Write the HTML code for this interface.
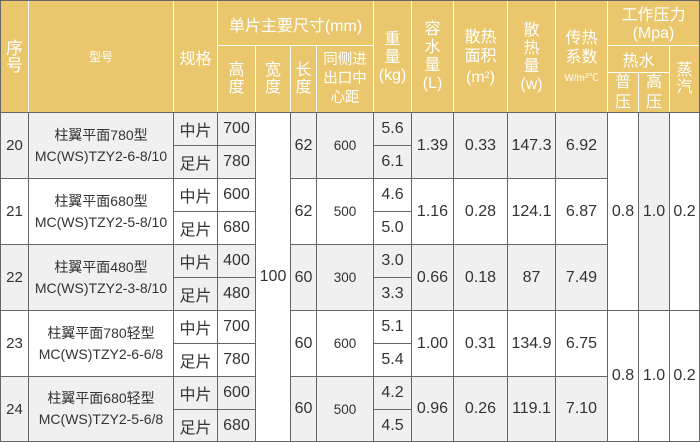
<!DOCTYPE html>
<html><head><meta charset="utf-8">
<style>
*{margin:0;padding:0;box-sizing:border-box}
html,body{width:700px;height:443px;background:#fff;overflow:hidden}
body{position:relative;font-family:"Liberation Sans","Noto Sans CJK SC",sans-serif;color:#333}
.c{position:absolute;display:flex;align-items:center;justify-content:center;text-align:center;white-space:nowrap}
.h{color:#fff;font-size:16px}
.l{position:absolute}
.w{background:#fff}
.d{background:#666}
.g{position:absolute;background:#f0f0f0}
.k0{left:1px;width:27px}.k1{left:29px;width:144px}.k2{left:174px;width:43px}.k3{left:218px;width:37px}
.k4{left:256px;width:34px}.k5{left:291px;width:25px}.k6{left:317px;width:56px}.k7{left:374px;width:37px}
.k8{left:412px;width:41px}.k9{left:454px;width:53px}.k10{left:508px;width:47px}.k11{left:556px;width:51px}
.k12{left:608px;width:30px}.k13{left:639px;width:30px}.k14{left:670px;width:29px}
.r0{top:113px;height:65px}.r1{top:179px;height:65px}.r2{top:245px;height:65px}.r3{top:311px;height:65px}.r4{top:377px;height:64px}
.a0{top:113px;height:32px}.b0{top:146px;height:32px}
.a1{top:179px;height:32px}.b1{top:212px;height:32px}
.a2{top:245px;height:32px}.b2{top:278px;height:32px}
.a3{top:311px;height:32px}.b3{top:344px;height:32px}
.a4{top:377px;height:32px}.b4{top:410px;height:31px}
.n{font-size:16px}
.sn{font-size:15px}
.m{font-size:14px;line-height:21px;flex-direction:column}
.s{font-size:16px}
.dist{font-size:13.5px}
</style></head><body>

<!-- header background -->
<div class="l" style="left:0;top:0;width:700px;height:112px;background:#eac76c"></div>

<!-- row shading -->
<div class="g" style="left:0;top:112px;width:255px;height:66px"></div>
<div class="g" style="left:290px;top:112px;width:317px;height:66px"></div>
<div class="g" style="left:0;top:244px;width:255px;height:66px"></div>
<div class="g" style="left:290px;top:244px;width:317px;height:66px"></div>
<div class="g" style="left:0;top:376px;width:255px;height:66px"></div>
<div class="g" style="left:290px;top:376px;width:317px;height:66px"></div>
<div class="g" style="left:638px;top:112px;width:31px;height:198px"></div>

<!-- header white lines -->
<div class="l w" style="left:28px;top:0;width:1px;height:112px"></div>
<div class="l w" style="left:173px;top:0;width:1px;height:112px"></div>
<div class="l w" style="left:217px;top:0;width:1px;height:112px"></div>
<div class="l w" style="left:373px;top:0;width:1px;height:112px"></div>
<div class="l w" style="left:411px;top:0;width:1px;height:112px"></div>
<div class="l w" style="left:453px;top:0;width:1px;height:112px"></div>
<div class="l w" style="left:507px;top:0;width:1px;height:112px"></div>
<div class="l w" style="left:555px;top:0;width:1px;height:112px"></div>
<div class="l w" style="left:607px;top:0;width:1px;height:112px"></div>
<div class="l w" style="left:255px;top:45px;width:1px;height:67px"></div>
<div class="l w" style="left:290px;top:45px;width:1px;height:67px"></div>
<div class="l w" style="left:316px;top:45px;width:1px;height:67px"></div>
<div class="l w" style="left:669px;top:45px;width:1px;height:67px"></div>
<div class="l w" style="left:638px;top:72px;width:1px;height:40px"></div>
<div class="l w" style="left:217px;top:45px;width:156px;height:1px"></div>
<div class="l w" style="left:607px;top:45px;width:93px;height:1px"></div>
<div class="l w" style="left:607px;top:72px;width:62px;height:1px"></div>

<!-- header text -->
<div class="c h" style="left:1px;top:1px;width:27px;height:111px;font-size:17px;line-height:17px"><div>序<br>号</div></div>
<div class="c h" style="left:29px;top:1px;width:144px;height:111px;font-size:12px">型号</div>
<div class="c h" style="left:174px;top:1px;width:43px;height:111px">规格</div>
<div class="c h" style="left:218px;top:1px;width:155px;height:44px;padding-top:2px">单片主要尺寸(mm)</div>
<div class="c h" style="left:218px;top:46px;width:37px;height:66px;line-height:17px"><div>高<br>度</div></div>
<div class="c h" style="left:256px;top:46px;width:34px;height:66px;line-height:17px"><div>宽<br>度</div></div>
<div class="c h" style="left:291px;top:46px;width:25px;height:66px;line-height:17px"><div>长<br>度</div></div>
<div class="c h" style="left:317px;top:46px;width:56px;height:66px;font-size:14.5px;line-height:19px"><div>同侧进<br>出口中<br>心距</div></div>
<div class="c h" style="left:374px;top:1px;width:37px;height:111px;line-height:18px;padding-top:2px"><div>重<br>量<br>(kg)</div></div>
<div class="c h" style="left:412px;top:1px;width:41px;height:111px;line-height:18px"><div>容<br>水<br>量<br>(L)</div></div>
<div class="c h" style="left:454px;top:1px;width:53px;height:111px;line-height:19px;padding-top:2px"><div>散热<br>面积<br>(m<span style="font-size:9px;vertical-align:4px">2</span>)</div></div>
<div class="c h" style="left:508px;top:1px;width:47px;height:111px;line-height:18px;padding-top:2px"><div>散<br>热<br>量<br>(w)</div></div>
<div class="c h" style="left:556px;top:1px;width:51px;height:111px;line-height:19px;padding-top:2px"><div>传热<br>系数<br><span style="font-size:10px;line-height:14px">W/m<span style="font-size:7px;vertical-align:3px">2</span>℃</span></div></div>
<div class="c h" style="left:608px;top:1px;width:91px;height:44px;line-height:18px;padding-top:3px"><div>工作压力<br>(Mpa)</div></div>
<div class="c h" style="left:608px;top:46px;width:61px;height:26px">热水</div>
<div class="c h" style="left:608px;top:73px;width:30px;height:39px;line-height:20px"><div>普<br>压</div></div>
<div class="c h" style="left:639px;top:73px;width:30px;height:39px;line-height:20px"><div>高<br>压</div></div>
<div class="c h" style="left:670px;top:46px;width:29px;height:66px;line-height:17px"><div>蒸<br>汽</div></div>

<!-- body dark lines: horizontal -->
<div class="l d" style="left:0;top:0;width:700px;height:1px"></div>
<div class="l d" style="left:0;top:112px;width:700px;height:1px"></div>
<div class="l d" style="left:0;top:441px;width:700px;height:1px"></div>
<div class="l d" style="left:0;top:178px;width:255px;height:1px"></div>
<div class="l d" style="left:290px;top:178px;width:317px;height:1px"></div>
<div class="l d" style="left:0;top:244px;width:255px;height:1px"></div>
<div class="l d" style="left:290px;top:244px;width:317px;height:1px"></div>
<div class="l d" style="left:0;top:310px;width:255px;height:1px"></div>
<div class="l d" style="left:290px;top:310px;width:410px;height:1px"></div>
<div class="l d" style="left:0;top:376px;width:255px;height:1px"></div>
<div class="l d" style="left:290px;top:376px;width:317px;height:1px"></div>
<!-- sub lines -->
<div class="l d" style="left:173px;top:145px;width:82px;height:1px"></div>
<div class="l d" style="left:373px;top:145px;width:38px;height:1px"></div>
<div class="l d" style="left:173px;top:211px;width:82px;height:1px"></div>
<div class="l d" style="left:373px;top:211px;width:38px;height:1px"></div>
<div class="l d" style="left:173px;top:277px;width:82px;height:1px"></div>
<div class="l d" style="left:373px;top:277px;width:38px;height:1px"></div>
<div class="l d" style="left:173px;top:343px;width:82px;height:1px"></div>
<div class="l d" style="left:373px;top:343px;width:38px;height:1px"></div>
<div class="l d" style="left:173px;top:409px;width:82px;height:1px"></div>
<div class="l d" style="left:373px;top:409px;width:38px;height:1px"></div>
<!-- vertical body lines -->
<div class="l d" style="left:0;top:0;width:1px;height:442px"></div>
<div class="l d" style="left:699px;top:0;width:1px;height:442px"></div>
<div class="l d" style="left:28px;top:112px;width:1px;height:330px"></div>
<div class="l d" style="left:173px;top:112px;width:1px;height:330px"></div>
<div class="l d" style="left:217px;top:112px;width:1px;height:330px"></div>
<div class="l d" style="left:255px;top:112px;width:1px;height:330px"></div>
<div class="l d" style="left:290px;top:112px;width:1px;height:330px"></div>
<div class="l d" style="left:316px;top:112px;width:1px;height:330px"></div>
<div class="l d" style="left:373px;top:112px;width:1px;height:330px"></div>
<div class="l d" style="left:411px;top:112px;width:1px;height:330px"></div>
<div class="l d" style="left:453px;top:112px;width:1px;height:330px"></div>
<div class="l d" style="left:507px;top:112px;width:1px;height:330px"></div>
<div class="l d" style="left:555px;top:112px;width:1px;height:330px"></div>
<div class="l d" style="left:607px;top:112px;width:1px;height:330px"></div>
<div class="l d" style="left:638px;top:112px;width:1px;height:330px"></div>
<div class="l d" style="left:669px;top:112px;width:1px;height:330px"></div>

<!-- row 20 -->
<div class="c sn k0 r0">20</div>
<div class="c m k1 r0"><span>柱翼平面780型</span><span>MC(WS)TZY2-6-8/10</span></div>
<div class="c s k2 a0">中片</div><div class="c s k2 b0">足片</div>
<div class="c n k3 a0">700</div><div class="c n k3 b0">780</div>
<div class="c n k5 r0">62</div>
<div class="c dist k6 r0">600</div>
<div class="c n k7 a0">5.6</div><div class="c n k7 b0">6.1</div>
<div class="c n k8 r0">1.39</div>
<div class="c n k9 r0">0.33</div>
<div class="c n k10 r0">147.3</div>
<div class="c n k11 r0">6.92</div>

<!-- row 21 -->
<div class="c sn k0 r1">21</div>
<div class="c m k1 r1"><span>柱翼平面680型</span><span>MC(WS)TZY2-5-8/10</span></div>
<div class="c s k2 a1">中片</div><div class="c s k2 b1">足片</div>
<div class="c n k3 a1">600</div><div class="c n k3 b1">680</div>
<div class="c n k5 r1">62</div>
<div class="c dist k6 r1">500</div>
<div class="c n k7 a1">4.6</div><div class="c n k7 b1">5.0</div>
<div class="c n k8 r1">1.16</div>
<div class="c n k9 r1">0.28</div>
<div class="c n k10 r1">124.1</div>
<div class="c n k11 r1">6.87</div>

<!-- row 22 -->
<div class="c sn k0 r2">22</div>
<div class="c m k1 r2"><span>柱翼平面480型</span><span>MC(WS)TZY2-3-8/10</span></div>
<div class="c s k2 a2">中片</div><div class="c s k2 b2">足片</div>
<div class="c n k3 a2">400</div><div class="c n k3 b2">480</div>
<div class="c n k5 r2">60</div>
<div class="c dist k6 r2">300</div>
<div class="c n k7 a2">3.0</div><div class="c n k7 b2">3.3</div>
<div class="c n k8 r2">0.66</div>
<div class="c n k9 r2">0.18</div>
<div class="c n k10 r2">87</div>
<div class="c n k11 r2">7.49</div>

<!-- row 23 -->
<div class="c sn k0 r3">23</div>
<div class="c m k1 r3"><span>柱翼平面780轻型</span><span>MC(WS)TZY2-6-6/8</span></div>
<div class="c s k2 a3">中片</div><div class="c s k2 b3">足片</div>
<div class="c n k3 a3">700</div><div class="c n k3 b3">780</div>
<div class="c n k5 r3">60</div>
<div class="c dist k6 r3">600</div>
<div class="c n k7 a3">5.1</div><div class="c n k7 b3">5.4</div>
<div class="c n k8 r3">1.00</div>
<div class="c n k9 r3">0.31</div>
<div class="c n k10 r3">134.9</div>
<div class="c n k11 r3">6.75</div>

<!-- row 24 -->
<div class="c sn k0 r4">24</div>
<div class="c m k1 r4"><span>柱翼平面680轻型</span><span>MC(WS)TZY2-5-6/8</span></div>
<div class="c s k2 a4">中片</div><div class="c s k2 b4">足片</div>
<div class="c n k3 a4">600</div><div class="c n k3 b4">680</div>
<div class="c n k5 r4">60</div>
<div class="c dist k6 r4">500</div>
<div class="c n k7 a4">4.2</div><div class="c n k7 b4">4.5</div>
<div class="c n k8 r4">0.96</div>
<div class="c n k9 r4">0.26</div>
<div class="c n k10 r4">119.1</div>
<div class="c n k11 r4">7.10</div>

<!-- merged cells -->
<div class="c n k4" style="top:113px;height:328px">100</div>
<div class="c n k12" style="top:113px;height:197px">0.8</div>
<div class="c n k13" style="top:113px;height:197px">1.0</div>
<div class="c n k14" style="top:113px;height:197px">0.2</div>
<div class="c n k12" style="top:311px;height:130px">0.8</div>
<div class="c n k13" style="top:311px;height:130px">1.0</div>
<div class="c n k14" style="top:311px;height:130px">0.2</div>

</body></html>
